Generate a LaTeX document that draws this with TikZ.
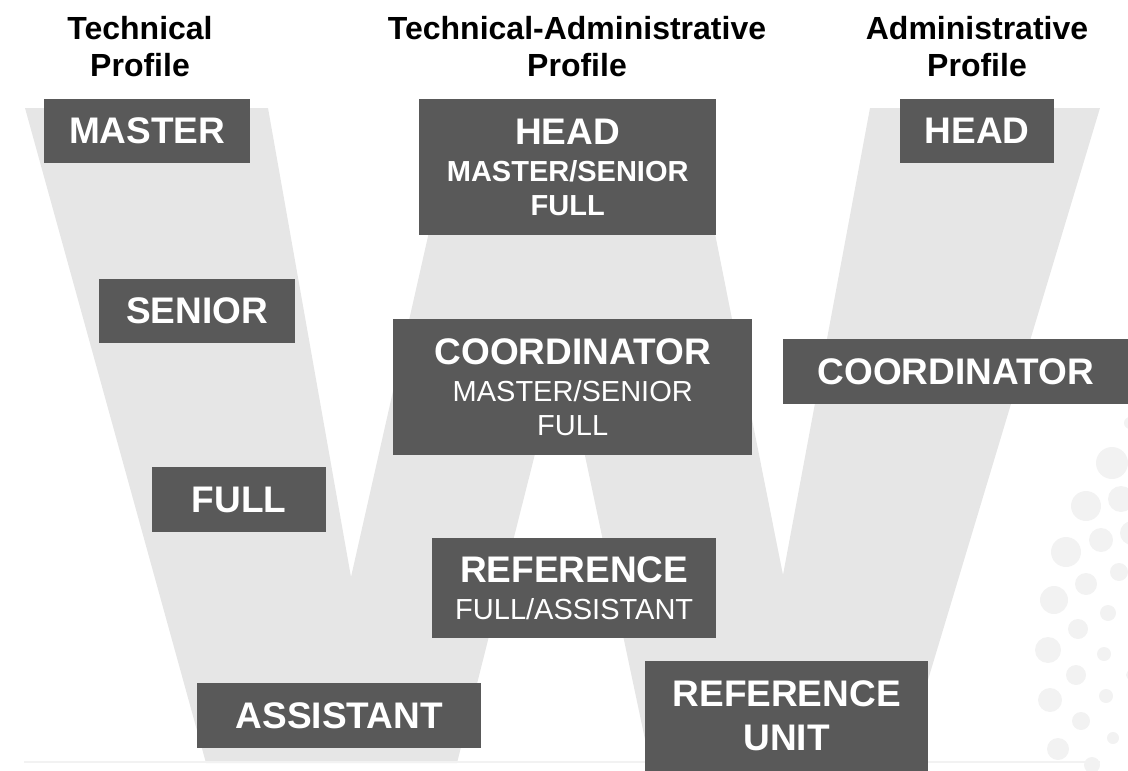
\documentclass[tikz,border=0pt]{standalone}
\usepackage{fontspec}
\setmainfont{Liberation Sans}
\definecolor{boxgray}{HTML}{595959}
\definecolor{wgray}{HTML}{E6E6E6}
\definecolor{dotgray}{HTML}{F2F2F2}
\newcommand\mainline[1]{{\fontsize{37}{44}\selectfont\bfseries #1}}
\tikzset{
  box/.style={fill=boxgray, text=white, inner sep=0pt, anchor=north west,
    align=center, font=\fontsize{29}{34}\selectfont},
  title/.style={font=\fontsize{32}{37}\selectfont\bfseries, align=center,
    anchor=north, inner sep=0pt},
  wshape/.style={fill=wgray},
  dot/.style={fill=dotgray},
  baseline rule/.style={draw=dotgray, line width=2pt}
}
\begin{document}
\begin{tikzpicture}[x=1pt, y=-1pt]
\useasboundingbox (0,0) rectangle (1128,771);
% background W
\fill[wshape] (25,108) -- (268,108) -- (351,577) -- (457,108) -- (690,108)
  -- (783,575) -- (870,108) -- (1100,108) -- (903,763) -- (650,763)
  -- (562,347) -- (457,763) -- (206,763) -- cycle;
\draw[baseline rule] (24,762) -- (1100,762);
% dots
\foreach \x/\y/\r in {1112/463/16, 1086/506/15, 1121/499/13, 1132/533/12,
  1066/552/15, 1101/540/12, 1119/572/9, 1054/600/14, 1086/584/11,
  1108/613/8, 1078/629/10, 1048/650/13, 1104/654/7, 1076/675/10,
  1131/675/5, 1050/700/12, 1106/696/7, 1081/721/9, 1113/738/6,
  1058/749/11, 1092/765/8, 1130/423/6}
  \fill[dot] (\x,\y) circle[radius=\r pt];
% titles
\node[title] (ttech) at (140,16) {Technical\\Profile};
\node[title] (ttechadm) at (577,16) {Technical-Administrative\\Profile};
\node[title] (tadm) at (977,16) {Administrative\\Profile};
% technical column
\node[box, minimum width=206pt, minimum height=64pt] (master) at (44,99) {\mainline{MASTER}};
\node[box, minimum width=196pt, minimum height=64pt] (senior) at (99,279) {\mainline{SENIOR}};
\node[box, minimum width=174pt, minimum height=65pt] (full) at (152,467) {\mainline{FULL}};
\node[box, minimum width=284pt, minimum height=65pt] (assistant) at (197,683) {\mainline{ASSISTANT}};
% technical-administrative column
\node[box, minimum width=297pt, minimum height=136pt] (headc) at (419,99)
  {\mainline{HEAD}\\[3pt]\textbf{MASTER/SENIOR}\\\textbf{FULL}};
\node[box, minimum width=359pt, minimum height=136pt] (coordc) at (393,319)
  {\mainline{COORDINATOR}\\[3pt]MASTER/SENIOR\\FULL};
\node[box, minimum width=284pt, minimum height=100pt] (refc) at (432,538)
  {\mainline{REFERENCE}\\[3pt]FULL/ASSISTANT};
% administrative column
\node[box, minimum width=154pt, minimum height=64pt] (headr) at (900,99) {\mainline{HEAD}};
\node[box, minimum width=345pt, minimum height=65pt] (coordr) at (783,339) {\mainline{COORDINATOR}};
\node[box, minimum width=283pt, minimum height=110pt] (refunit) at (645,661)
  {\mainline{REFERENCE}\\[10pt]\mainline{UNIT}};
\end{tikzpicture}
\end{document}
